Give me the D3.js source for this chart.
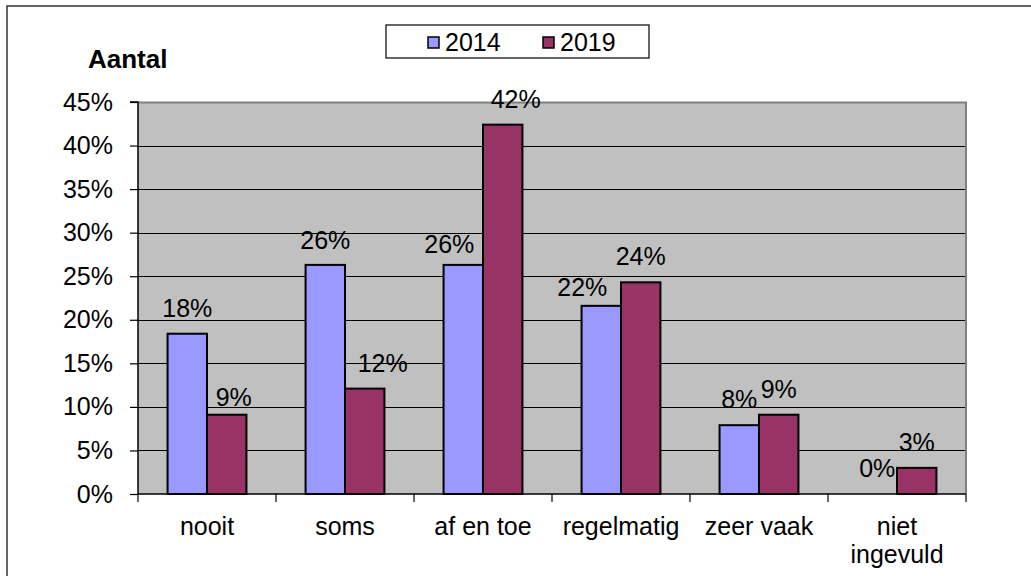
<!DOCTYPE html>
<html>
<head>
<meta charset="utf-8">
<script src="https://cdn.jsdelivr.net/npm/d3@7"></script>
<style>
  html, body { margin: 0; padding: 0; background: #fff; }
  svg { display: block; font-family: "Liberation Sans", Arial, sans-serif; }
</style>
</head>
<body>
<svg id="chart" width="1031" height="576"></svg>
<script>
// Answer categories (x axis)
const categories = ["nooit", "soms", "af en toe", "regelmatig", "zeer vaak", "niet ingevuld"];
// Survey years
const series = ["2014", "2019"];
// Share of respondents per category, in percent
const values2014 = [18.4, 26.3, 26.3, 21.6, 7.9, 0];
const values2019 = [9.1, 12.1, 42.4, 24.3, 9.1, 3.0];
// Value axis ticks, in percent
const yTicks = [0, 5, 10, 15, 20, 25, 30, 35, 40, 45];

// Label nudges (dx, dy in px) where neighbouring labels would collide
const labelNudge2014 = [[0, 0], [0, 1], [-14, 5], [-19, 7], [0, 0], [0, 0]];
const labelNudge2019 = [[7, 8], [18, 0], [13, 0], [0, 0], [0, 0], [0, 0]];

const colors = { "2014": "#9999FF", "2019": "#993366" };

const svg = d3.select("#chart");
const plot = { left: 138, right: 966, top: 102, bottom: 494 };
const fontSize = 25;

// Outer chart frame
svg.append("rect")
  .attr("x", 7).attr("y", 6)
  .attr("width", 1100).attr("height", 700)
  .attr("fill", "#fff")
  .attr("stroke", "#333").attr("stroke-width", 1.5);

const x0 = d3.scaleBand().domain(categories).range([plot.left, plot.right]).padding(0);
const bw = x0.bandwidth();
const gap = bw * 0.75 / 3.5; // 150% gap width between groups
const x1 = d3.scaleBand().domain(series).range([gap, bw - gap]).padding(0);
const y = d3.scaleLinear().domain([0, 45]).range([plot.bottom, plot.top]);

// Plot area background
svg.append("rect")
  .attr("x", plot.left).attr("y", plot.top)
  .attr("width", plot.right - plot.left).attr("height", plot.bottom - plot.top)
  .attr("fill", "#C0C0C0");

// Horizontal gridlines
svg.append("g")
  .selectAll("line")
  .data(yTicks.filter(t => t > 0 && t < 45))
  .join("line")
  .attr("x1", plot.left).attr("x2", plot.right)
  .attr("y1", d => Math.round(y(d)) + 0.5).attr("y2", d => Math.round(y(d)) + 0.5)
  .attr("stroke", "#000").attr("stroke-width", 1);

// Plot area border (top and right)
svg.append("path")
  .attr("d", `M${plot.left},${plot.top + 0.5}H${plot.right}V${plot.bottom}`)
  .attr("fill", "none").attr("stroke", "#808080").attr("stroke-width", 2);

// Bars
const rows = categories.map((c, i) => ({
  cat: c,
  items: [
    { s: "2014", v: values2014[i], nudge: labelNudge2014[i] },
    { s: "2019", v: values2019[i], nudge: labelNudge2019[i] }
  ]
}));

const groups = svg.append("g")
  .selectAll("g")
  .data(rows)
  .join("g")
  .attr("transform", d => `translate(${x0(d.cat)},0)`);

groups.selectAll("rect")
  .data(d => d.items.filter(it => it.v > 0))
  .join("rect")
  .attr("x", d => x1(d.s))
  .attr("y", d => y(d.v))
  .attr("width", x1.bandwidth())
  .attr("height", d => y(0) - y(d.v))
  .attr("fill", d => colors[d.s])
  .attr("stroke", "#000").attr("stroke-width", 2);

// Value labels
groups.selectAll("text")
  .data(d => d.items)
  .join("text")
  .attr("x", d => x1(d.s) + x1.bandwidth() / 2 + d.nudge[0])
  .attr("y", d => y(d.v) - 17 + d.nudge[1])
  .attr("text-anchor", "middle")
  .attr("font-size", fontSize)
  .attr("fill", "#000")
  .text(d => d3.format(".0f")(d.v) + "%");

// Y axis
const yAxis = d3.axisLeft(y)
  .tickValues(yTicks)
  .tickFormat(d => d + "%")
  .tickSize(8)
  .tickPadding(17);
const gy = svg.append("g").attr("transform", `translate(${plot.left},0)`).call(yAxis);
gy.select(".domain").attr("stroke", "#000").attr("stroke-width", 1.5).attr("d", `M-8,${plot.top}H0V${plot.bottom}`);
gy.selectAll(".tick line").attr("stroke", "#000").attr("stroke-width", 1.2);
gy.selectAll(".tick text").attr("font-size", fontSize).attr("fill", "#000")
  .attr("font-family", "Liberation Sans, Arial, sans-serif");

// X axis: ticks at category boundaries
const gx = svg.append("g");
gx.append("line")
  .attr("x1", plot.left).attr("x2", plot.right)
  .attr("y1", plot.bottom).attr("y2", plot.bottom)
  .attr("stroke", "#000").attr("stroke-width", 1.5);
gx.selectAll("line.tick")
  .data(categories.map(c => x0(c)).concat([plot.right]))
  .join("line")
  .attr("class", "tick")
  .attr("x1", d => d).attr("x2", d => d)
  .attr("y1", plot.bottom).attr("y2", plot.bottom + 8)
  .attr("stroke", "#000").attr("stroke-width", 1.2);

// Category labels (wrapped onto two lines where needed)
const wrapped = { "niet ingevuld": ["niet", "ingevuld"] };
gx.selectAll("text")
  .data(categories)
  .join("text")
  .attr("x", d => x0(d) + bw / 2)
  .attr("y", 535)
  .attr("text-anchor", "middle")
  .attr("font-size", fontSize)
  .attr("fill", "#000")
  .each(function (d) {
    const lines = wrapped[d] || [d];
    const t = d3.select(this);
    lines.forEach((ln, i) => {
      t.append("tspan")
        .attr("x", x0(d) + bw / 2)
        .attr("dy", i === 0 ? 0 : 28)
        .text(ln);
    });
  });

// Axis title
svg.append("text")
  .attr("x", 88).attr("y", 68)
  .attr("font-size", 26)
  .attr("font-weight", "bold")
  .attr("fill", "#000")
  .text("Aantal");

// Legend
const legend = svg.append("g");
legend.append("rect")
  .attr("x", 386).attr("y", 25)
  .attr("width", 263).attr("height", 33)
  .attr("fill", "#fff").attr("stroke", "#000").attr("stroke-width", 1.2);
const legendX = [428, 543];
series.forEach((s, i) => {
  legend.append("rect")
    .attr("x", legendX[i]).attr("y", 37)
    .attr("width", 11).attr("height", 11)
    .attr("fill", colors[s]).attr("stroke", "#000").attr("stroke-width", 1.5);
  legend.append("text")
    .attr("x", legendX[i] + 17).attr("y", 51)
    .attr("font-size", fontSize)
    .attr("fill", "#000")
    .text(s);
});
</script>
</body>
</html>
